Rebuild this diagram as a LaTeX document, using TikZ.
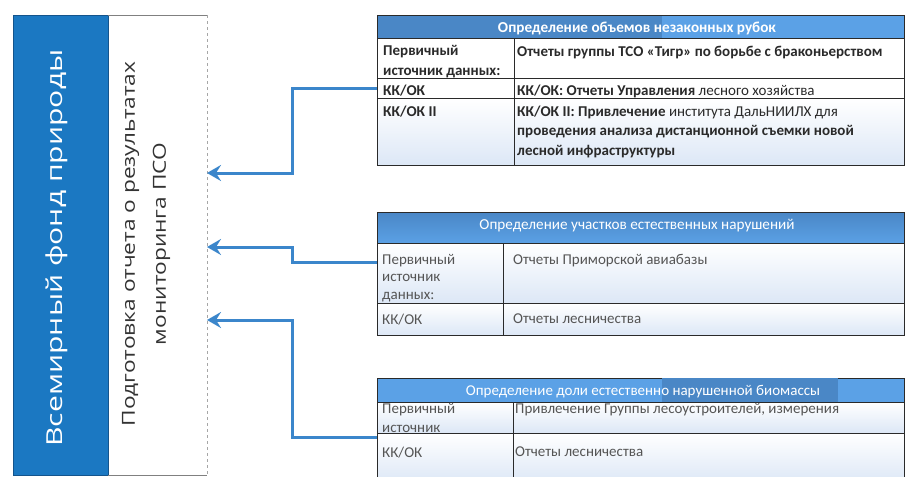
\documentclass[tikz,border=0pt]{standalone}
\usepackage{fontspec}
\setmainfont{Carlito}
\newfontfamily\osans{Open Sans}
\usetikzlibrary{arrows.meta}
\definecolor{wwfblue}{HTML}{1B78C2}
\definecolor{wwfedge}{HTML}{14548C}
\definecolor{conncol}{HTML}{3B86CB}
\definecolor{tline}{HTML}{2A2A2A}
\definecolor{hdark}{HTML}{4A87C6}
\definecolor{hlight}{HTML}{5BA1E6}
\definecolor{rowblue}{HTML}{DCE7F6}
\definecolor{graytext}{HTML}{555555}
\tikzset{
  rowbox/.style={draw=tline, line width=1pt, anchor=north west, inner sep=0pt,
    minimum width=527pt, top color=white, bottom color=rowblue},
  hdrbox/.style={draw=tline, line width=1pt, anchor=north west, inner sep=0pt,
    minimum width=527pt},
  hdrtext/.style={text=white, inner sep=0pt, anchor=base,
    font=\fontsize{15.2}{17}\selectfont\bfseries},
  celltxt/.style={inner sep=0pt, anchor=north west, align=left, text=tline,
    font=\fontsize{15}{19.5}\selectfont\bfseries},
  celltxtg/.style={inner sep=0pt, anchor=north west, align=left, text=graytext,
    font=\fontsize{15}{17.5}\selectfont},
  conn/.style={draw=conncol, line width=3pt,
    -{Stealth[length=14pt,width=16pt,inset=5pt]}},
  divline/.style={draw=tline, line width=1pt}
}
\begin{document}
\begin{tikzpicture}[x=1pt,y=-1pt]
\useasboundingbox (0,0) rectangle (906,477);
\fill[white] (0,0) rectangle (906,477);

% left panels
\node[draw=wwfedge, fill=wwfblue, line width=1.2pt, minimum width=95pt,
  minimum height=460pt, anchor=north west, inner sep=0pt] (wwf) at (13,15) {};
\node[rotate=90, text=white, inner sep=0pt,
  font=\osans\fontsize{22}{26}\selectfont] (wwftext) at (57,248)
  {\scalebox{1.37}[1]{Всемирный фонд природы}};

\node[minimum width=99pt, minimum height=460pt, anchor=north west,
  inner sep=0pt] (report) at (108,15) {};
\draw[gray, line width=0.8pt] (report.north west) -- (report.north east);
\draw[gray, line width=0.8pt] (report.south west) -- (report.south east);
\draw[gray!70, line width=0.8pt, dashed] (report.north east) -- (report.south east);
\node[rotate=90, text=black!80, inner sep=0pt, align=center,
  font=\osans\fontsize{18}{31}\selectfont] (reporttext) at (146,244)
  {\scalebox{1.26}[1]{Подготовка отчета о результатах}\\
   \scalebox{1.26}[1]{мониторинга ПСО}};

% ---------- table 1 ----------
\node[hdrbox, minimum height=23pt, fill=hlight] (t1h) at (377,15) {};
\fill[hdark] ([shift={(0.5pt,-0.5pt)}]t1h.north west) rectangle (662,38);
\node[hdrtext] (t1ht) at (637,32) {Определение объемов незаконных рубок};
\node[rowbox, minimum height=40pt, bottom color=white] (t1r1) at (377,38) {};
\node[rowbox, minimum height=20pt, bottom color=white] (t1r2) at (377,78) {};
\node[rowbox, minimum height=67pt] (t1r3) at (377,98) {};
\draw[divline] (514,38) -- (514,165);
\node[celltxt] (t1a) at (383,45.5) {Первичный\\источник данных:};
\node[celltxt] (t1b) at (517,45.5) {Отчеты группы ТСО «Тигр» по борьбе с браконьерством};
\node[celltxt] (t1c) at (383,85) {КК/ОК};
\node[celltxt] (t1d) at (517,85) {КК/ОК: Отчеты Управления \mdseries лесного хозяйства};
\node[celltxt] (t1e) at (383,105.5) {КК/ОК II};
\node[celltxt] (t1f) at (517,105.5) {КК/ОК II: Привлечение \mdseries института ДальНИИЛХ для\\
  проведения анализа дистанционной съемки новой\\лесной инфраструктуры};

% ---------- table 2 ----------
\node[hdrbox, minimum height=31pt, top color=hdark, bottom color=hlight] (t2h) at (377,212) {};
\node[hdrtext, font=\fontsize{15.2}{17}\selectfont] (t2ht) at (637,229) {Определение участков естественных нарушений};
\node[rowbox, minimum height=60pt] (t2r1) at (377,243) {};
\node[rowbox, minimum height=32pt] (t2r2) at (377,303) {};
\draw[divline] (503,243) -- (503,335);
\node[celltxtg] (t2a) at (382,254) {Первичный\\источник\\данных:};
\node[celltxtg] (t2b) at (513,254) {Отчеты Приморской авиабазы};
\node[celltxtg] (t2c) at (382,314) {КК/ОК};
\node[celltxtg] (t2d) at (513,314) {Отчеты лесничества};

% ---------- table 3 ----------
\node[hdrbox, minimum height=24pt, fill=hlight] (t3h) at (377,378) {};
\fill[hdark] (662,378) rectangle (838,404);
\node[hdrtext, font=\fontsize{15}{17}\selectfont] (t3ht) at (643,395) {Определение доли естественно нарушенной биомассы};
\node[rowbox, minimum height=31pt] (t3r1) at (377,402) {};
\node[rowbox, minimum height=50pt] (t3r2) at (377,433) {};
\draw[divline] (513,402) -- (513,480);
\node[celltxtg, font=\fontsize{15}{19}\selectfont] (t3a) at (382,403) {Первичный\\источник};
\node[celltxtg] (t3b) at (515,403) {Привлечение Группы лесоустроителей, измерения};
\node[celltxtg] (t3c) at (382,446.5) {КК/ОК};
\node[celltxtg] (t3d) at (515,446.5) {Отчеты лесничества};

% ---------- connectors ----------
\coordinate (a1end) at (207,173);
\coordinate (a2end) at (207,247);
\coordinate (a3end) at (207,320);
\draw[conn] (t1r2.west) -- ++(-85,0) |- (a1end);
\draw[conn] ([yshift=-19pt]t2r1.north west) -- ++(-85,0) |- (a2end);
\draw[conn] ([yshift=-4pt]t3r2.north west) -- ++(-85,0) |- (a3end);
\end{tikzpicture}
\end{document}
